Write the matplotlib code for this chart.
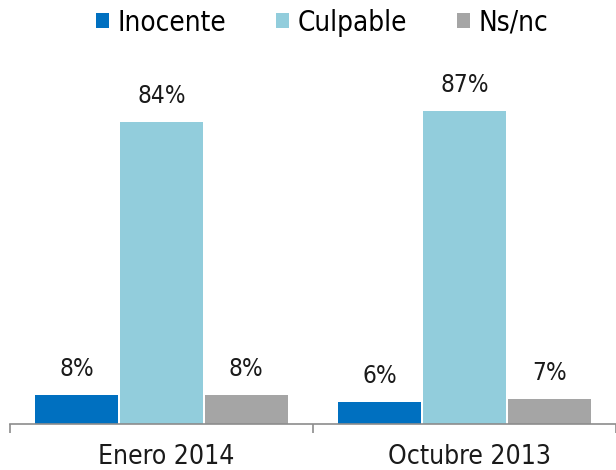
import numpy as np
import matplotlib.pyplot as plt

plt.rcParams['font.family'] = ['DejaVu Sans']
plt.rcParams['font.stretch'] = 'condensed'

categories = ["Enero 2014", "Octubre 2013"]
series = ["Inocente", "Culpable", "Ns/nc"]
inocente = [8, 6]
culpable = [84, 87]
nsnc = [8, 7]
colors = ["#0070C0", "#92CDDC", "#A5A5A5"]

fig = plt.figure(figsize=(6.16, 4.70), dpi=100)
# axis line at y=424 px, 3.6 px per percent point
ax = fig.add_axes([10/616, 46/470, 606/616, 360/470])

x = np.arange(len(categories))
width = 0.273
step = 0.28
for i, (name, vals) in enumerate(zip(series, [inocente, culpable, nsnc])):
    pos = x + (i - 1) * step
    ax.bar(pos, vals, width, color=colors[i], label=name, linewidth=0)
    for p, v in zip(pos, vals):
        ax.text(p, v + 5.3, f"{v}%", ha='center', va='baseline', fontsize=17.5, color='#1a1a1a')

ax.set_xlim(-0.5, 1.5)
ax.set_ylim(0, 100)
ax.set_yticks([])
for s in ['top', 'right', 'left']:
    ax.spines[s].set_visible(False)
ax.spines['bottom'].set_color('#8c8c8c')
ax.spines['bottom'].set_linewidth(1.2)
ax.set_xticks([-0.5, 0.5, 1.5])
ax.set_xticklabels([])
ax.tick_params(axis='x', direction='out', length=6.5, color='#8c8c8c', width=1.2)

for c, lx in zip(categories, x + 0.016):
    ax.text(lx, -11.2, c, ha='center', va='baseline', fontsize=19, color='#1a1a1a', clip_on=False)

fig.legend(loc='center', bbox_to_anchor=(0.523, 0.952), ncol=3, frameon=False,
           fontsize=20, handlelength=0.47, handleheight=0.47, handletextpad=0.3,
           columnspacing=1.8)

fig.savefig('out.png', dpi=100)
